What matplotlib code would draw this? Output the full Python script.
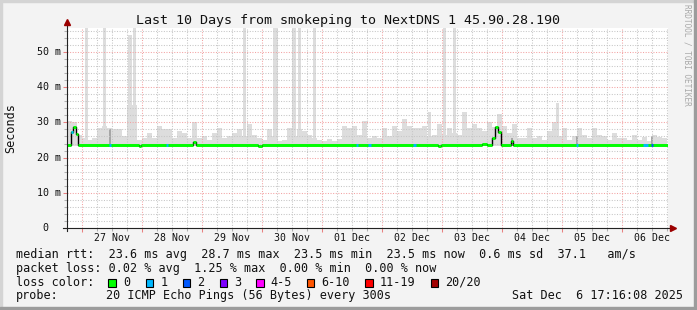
import datetime
import matplotlib
matplotlib.use('Agg')
import matplotlib.pyplot as plt
import matplotlib.dates as mdates
from matplotlib.ticker import MultipleLocator, NullFormatter
from matplotlib.patches import Rectangle
from matplotlib import transforms

W, H = 697, 310
MONO = 'DejaVu Sans Mono'

day0 = datetime.datetime(2025, 11, 27)
x_from_h, x_to_h = -6.0, 234.4      # hours after 27 Nov 00:00
y_top = 56.8                         # ms

# smoke (max rtt) in 2 h buckets, first bucket starts 26 Nov 18:00, ms
smoke_top = [
    30.5, 30, 26.5, 25.5, 25, 25.5, 28.5, 29, 28.5, 28, 28, 26,
    35, 35, 25, 25.5, 27, 25.5, 29, 28, 28, 25.5, 27.5, 27,
    25.5, 30, 25.5, 26, 25, 27, 28.5, 25.5, 26, 27, 28, 26,
    29.5, 26.5, 25.5, 25, 28, 26, 24.8, 25, 28.5, 26, 28, 27.5,
    26.5, 25.5, 25, 24.8, 25.2, 24.8, 25.3, 29, 28.3, 29, 26.5, 30.5,
    25.5, 26, 25.5, 28.5, 26, 29, 27.5, 31, 29, 28.5, 28.5, 29,
    26, 26.5, 29.5, 26.5, 28.5, 27, 26.5, 33, 28.5, 29.5, 28.5, 27.5,
    30, 28.7, 32.5, 29, 27, 29.5, 25.5, 25.7, 28.5, 25.7, 26, 25,
    27.5, 30, 26, 28.5, 25, 26, 28.5, 26.5, 25.5, 28.5, 26.5, 26,
    25, 27, 25.5, 25.5, 25, 26.5, 25, 25.8, 24.8, 26.5, 25.8, 25.5,
]
smoke_floor = 23.3

# narrow smoke spikes: centre (h after 27 Nov 00:00), width h, top ms
spike_h = [1.8, 9.0, 19.2, 21.0, 65.0, 77.4, 84.8, 87.0, 93.0, 139.0, 145.0, 149.0, 190.2]
spike_w = [1.2, 1.2, 1.6, 1.2, 1.2, 2.0, 1.6, 1.2, 1.2, 1.2, 1.2, 1.2, 1.2]
spike_top = [60, 60, 54.7, 60, 60, 60, 60, 60, 60, 33, 60, 60, 35.5]

# denser smoke near the median
dark_h = [11.2, 172.0, 198.0, 228.0]
dark_top = [28, 25.5, 26, 26]

# median rtt steps: start hour, value ms
med_h = [-6.0, -4.6, -3.7, -2.4, -1.7, 22.8, 23.6, 44.4, 45.6, 70.4, 72.0,
         142.4, 143.6, 160.0, 162.0, 163.8, 165.0, 166.2, 167.6, 171.6, 172.4, 234.4]
med_v = [23.6, 27.3, 28.7, 26.6, 23.6, 23.2, 23.6, 24.5, 23.6, 23.2, 23.6,
         23.2, 23.6, 23.9, 23.6, 25.6, 28.8, 27.2, 23.6, 24.7, 23.6, 23.6]

# loss events: start hour, end hour, loss level
loss_from = [-4.6, 10.8, 33.6, 109.6, 114.4, 132.4, 197.6, 224.4, 227.6]
loss_to = [-3.7, 11.6, 34.4, 110.4, 115.6, 133.6, 198.4, 226.4, 228.4]
loss_lvl = [1, 1, 1, 1, 1, 1, 1, 1, 2]

loss_labels = ['0', '1', '2', '3', '4-5', '6-10', '11-19', '20/20']
loss_colors = ['#00ff00', '#00b8ff', '#0059ff', '#7e00ff', '#ff00ff', '#ff5500', '#ff0000', '#a10000']
loss_box_x = [108.3, 145.7, 182.7, 219.7, 256.3, 307.0, 365.3, 430.7]

day_labels = ['27 Nov', '28 Nov', '29 Nov', '30 Nov', '01 Dec',
              '02 Dec', '03 Dec', '04 Dec', '05 Dec', '06 Dec']
y_labels = ['0', '10 m', '20 m', '30 m', '40 m', '50 m']


def hx(h):
    return mdates.date2num(day0) + h / 24.0


def fx(px):
    return px / W


def fy(py):
    return 1 - py / H


fig = plt.figure(figsize=(W / 100, H / 100), dpi=100, facecolor='#f3f3f3')
# rrdtool style frame
fig.patches.append(Rectangle((0, fy(2)), 1, 2 / H, transform=fig.transFigure, color='#d4d4d4'))
fig.patches.append(Rectangle((0, 0), fx(2), 1, transform=fig.transFigure, color='#d4d4d4'))
fig.patches.append(Rectangle((0, 0), 1, 3 / H, transform=fig.transFigure, color='#9c9c9c'))
fig.patches.append(Rectangle((1 - 3 / W, 0), 3 / W, 1, transform=fig.transFigure, color='#9c9c9c'))

ax = fig.add_axes([fx(67), fy(228.3), fx(668) - fx(67), fy(27.7) - fy(228.3)])
ax.set_facecolor('white')
ax.set_xlim(hx(x_from_h), hx(x_to_h))
ax.set_ylim(0, y_top)

# smoke
bucket_x = [hx(-6.0 + 2 * i) for i in range(len(smoke_top))]
ax.bar(bucket_x, [t - smoke_floor for t in smoke_top], bottom=smoke_floor,
       width=2 / 24, align='edge', color='#dddddd', linewidth=0, zorder=1)
ax.bar([hx(h) for h in spike_h], [t - smoke_floor for t in spike_top], bottom=smoke_floor,
       width=[w / 24 for w in spike_w], color='#dddddd', linewidth=0, zorder=1)
ax.bar([hx(h) for h in dark_h], [t - smoke_floor for t in dark_top], bottom=smoke_floor,
       width=0.8 / 24, color='#a6a6a6', linewidth=0, zorder=1.1)

# grid
ax.xaxis.set_major_locator(mdates.DayLocator())
ax.xaxis.set_minor_locator(mdates.HourLocator(byhour=[6, 12, 18]))
ax.yaxis.set_major_locator(MultipleLocator(10))
ax.yaxis.set_minor_locator(MultipleLocator(2))
ax.xaxis.set_major_formatter(NullFormatter())
ax.yaxis.set_major_formatter(NullFormatter())
ax.grid(which='major', color='#f3a3a3', linestyle=(0, (1, 1.5)), linewidth=0.75)
ax.grid(which='minor', color='#c6c6c6', linestyle=(0, (1, 1.5)), linewidth=0.75)
ax.set_axisbelow(False)
ax.tick_params(which='major', direction='out', length=3, width=0.75, color='#e88080')
ax.tick_params(which='minor', direction='out', length=2, width=0.75, color='#b0b0b0')
for s in ax.spines.values():
    s.set_visible(False)

# median line
ax.step([hx(h) for h in med_h], med_v, where='post', color='black', linewidth=1.0, zorder=3)
for i in range(len(med_h) - 1):
    ax.hlines(med_v[i], hx(med_h[i]), hx(med_h[i + 1]), color=loss_colors[0], linewidth=2.1, zorder=4)
for a, b, lvl in zip(loss_from, loss_to, loss_lvl):
    v = med_v[0]
    for h, mv in zip(med_h, med_v):
        if h <= a:
            v = mv
    ax.hlines(v, hx(a), hx(b), color=loss_colors[lvl], linewidth=2.1, zorder=5)

# axes lines with arrows
ax.plot([0, 0], [-0.015, 1.03], transform=ax.transAxes, color='#222222', lw=0.8, clip_on=False, zorder=6)
ax.plot([-0.006, 1.008], [0, 0], transform=ax.transAxes, color='#222222', lw=0.8, clip_on=False, zorder=6)
ax.plot([0], [1.03], marker='^', markersize=4.5, color='#9b0000', transform=ax.transAxes, clip_on=False, zorder=7)
ax.plot([1.008], [0], marker='>', markersize=4.5, color='#9b0000', transform=ax.transAxes, clip_on=False, zorder=7)

# axis labels
tick_tf = transforms.blended_transform_factory(ax.transData, fig.transFigure)
for i, lab in enumerate(day_labels):
    ax.text(hx(24 * i + 12), fy(241), lab, transform=tick_tf, ha='center', va='baseline',
            family=MONO, fontsize=7.1, color='#111111')
ylab_tf = transforms.blended_transform_factory(fig.transFigure, ax.transData)
for i, lab in enumerate(y_labels):
    xr = 48 if lab == '0' else 60.5
    ax.text(fx(xr), i * 10, lab, transform=ylab_tf, ha='right', va='center',
            family=MONO, fontsize=7.2, color='#111111')

fig.text(0.5, fy(24), 'Last 10 Days from smokeping to NextDNS 1 45.90.28.190',
         ha='center', va='baseline', family=MONO, fontsize=9.6, color='#111111')
fig.text(fx(11), fy(128), 'Seconds', rotation=90, ha='center', va='center',
         family=MONO, fontsize=8.5, color='#111111')
fig.text(fx(686.5), fy(4), 'RRDTOOL / TOBI OETIKER', rotation=270, ha='center', va='top',
         family=MONO, fontsize=5.6, color='#a8a8a8')

# legend rows
lx = fx(16)
fig.text(lx, fy(258), 'median rtt:  23.6 ms avg  28.7 ms max  23.5 ms min  23.5 ms now  0.6 ms sd  37.1   am/s',
         ha='left', va='baseline', family=MONO, fontsize=8.5, color='#111111')
fig.text(lx, fy(271.8), 'packet loss: 0.02 % avg  1.25 % max  0.00 % min  0.00 % now',
         ha='left', va='baseline', family=MONO, fontsize=8.5, color='#111111')
fig.text(lx, fy(285.6), 'loss color:', ha='left', va='baseline', family=MONO, fontsize=8.5, color='#111111')
for bx, lab, c in zip(loss_box_x, loss_labels, loss_colors):
    fig.patches.append(Rectangle((fx(bx), fy(286.7)), 7.4 / W, 7.7 / H, transform=fig.transFigure,
                                 facecolor=c, edgecolor='black', linewidth=0.8))
    fig.text(fx(bx + 14.5), fy(285.6), lab, ha='left', va='baseline', family=MONO, fontsize=8.5, color='#111111')
fig.text(lx, fy(299.4), 'probe:', ha='left', va='baseline', family=MONO, fontsize=8.5, color='#111111')
fig.text(fx(106.5), fy(299.4), '20 ICMP Echo Pings (56 Bytes) every 300s',
         ha='left', va='baseline', family=MONO, fontsize=8.5, color='#111111')
fig.text(fx(512.5), fy(299.4), 'Sat Dec  6 17:16:08 2025',
         ha='left', va='baseline', family=MONO, fontsize=8.5, color='#111111')

plt.savefig('out.png', dpi=100, facecolor=fig.get_facecolor())
